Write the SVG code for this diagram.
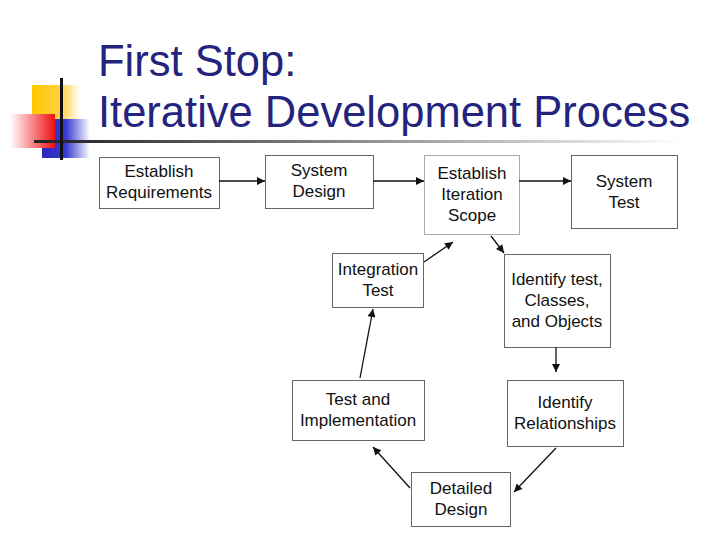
<svg xmlns="http://www.w3.org/2000/svg" width="720" height="540" viewBox="0 0 720 540">
<defs>
<style>
.box{fill:#fff;stroke:#666;stroke-width:1}
.t{font-family:"Liberation Sans",Arial,sans-serif;font-size:17px;fill:#111;text-anchor:middle}
.ttl{font-family:"Liberation Sans",Arial,sans-serif;font-size:43.5px;fill:#24247e}
.c{stroke:#111;stroke-width:1.3;fill:none;marker-end:url(#ah)}
</style>
<marker id="ah" viewBox="0 0 10 10" refX="10" refY="5" markerWidth="10" markerHeight="8" markerUnits="userSpaceOnUse" orient="auto"><path d="M0,0L10,5L0,10z" fill="#111"/></marker>
<linearGradient id="gr" x1="0" x2="1"><stop offset="0" stop-color="#fff"/><stop offset="1" stop-color="#f01010"/></linearGradient>
<linearGradient id="gb" x1="0" x2="1"><stop offset="0" stop-color="#2828c0"/><stop offset="0.5" stop-color="#3a3ad0"/><stop offset="1" stop-color="#fff"/></linearGradient>
<linearGradient id="gy" x1="0" x2="1"><stop offset="0" stop-color="#ffc800"/><stop offset="0.6" stop-color="#ffd040"/><stop offset="1" stop-color="#fff"/></linearGradient>
<linearGradient id="gl" x1="0" x2="1"><stop offset="0" stop-color="#222"/><stop offset="0.1" stop-color="#333"/><stop offset="1" stop-color="#fff"/></linearGradient>
</defs>
<g id="logo">
<rect x="32" y="85" width="48" height="34" fill="url(#gy)"/>
<rect x="42" y="119" width="48" height="39" fill="url(#gb)"/>
<rect x="10" y="114" width="45" height="34" fill="url(#gr)"/>
<rect x="34" y="140" width="650" height="3" fill="url(#gl)"/>
<rect x="60" y="78" width="3" height="82" fill="#111"/>
</g>
<g id="title">
<text class="ttl" x="98" y="76">First Stop:</text>
<text class="ttl" x="98" y="127">Iterative Development Process</text>
</g>
<g id="n1"><rect class="box" x="99.500" y="157.500" width="120" height="51"/><text class="t" x="159" y="177">Establish</text><text class="t" x="159" y="198">Requirements</text></g>
<g id="n2"><rect class="box" x="265.500" y="155.500" width="108" height="53"/><text class="t" x="319" y="176">System</text><text class="t" x="319" y="197">Design</text></g>
<g id="n3"><rect class="box" x="424.500" y="155.500" width="95" height="79" style="stroke:#aaa"/><text class="t" x="472" y="179">Establish</text><text class="t" x="472" y="200">Iteration</text><text class="t" x="472" y="221">Scope</text></g>
<g id="n4"><rect class="box" x="571.500" y="155.500" width="106" height="73"/><text class="t" x="624" y="187">System</text><text class="t" x="624" y="208">Test</text></g>
<g id="n5"><rect class="box" x="332.500" y="253.500" width="91" height="54"/><text class="t" x="378" y="275">Integration</text><text class="t" x="378" y="296">Test</text></g>
<g id="n6"><rect class="box" x="504.500" y="254.500" width="106" height="93"/><text class="t" x="557" y="285">Identify test,</text><text class="t" x="557" y="306">Classes,</text><text class="t" x="557" y="327">and Objects</text></g>
<g id="n7"><rect class="box" x="292.500" y="380.500" width="132" height="60"/><text class="t" x="358" y="405">Test and</text><text class="t" x="358" y="426">Implementation</text></g>
<g id="n8"><rect class="box" x="507.500" y="380.500" width="116" height="66"/><text class="t" x="565" y="408">Identify</text><text class="t" x="565" y="429">Relationships</text></g>
<g id="n9"><rect class="box" x="411.500" y="472.500" width="99" height="54"/><text class="t" x="461" y="494">Detailed</text><text class="t" x="461" y="515">Design</text></g>
<g id="connectors">
<line class="c" x1="219" y1="181" x2="265" y2="181"/>
<line class="c" x1="373" y1="181" x2="424" y2="181"/>
<line class="c" x1="519" y1="181" x2="571" y2="181"/>
<line class="c" x1="491" y1="236" x2="504" y2="253"/>
<line class="c" x1="556" y1="347" x2="556" y2="372"/>
<line class="c" x1="556" y1="448" x2="514" y2="492"/>
<line class="c" x1="410" y1="488" x2="373" y2="447"/>
<line class="c" x1="360" y1="378" x2="373" y2="309"/>
<line class="c" x1="424" y1="262" x2="453" y2="242"/>
</g>
</svg>
